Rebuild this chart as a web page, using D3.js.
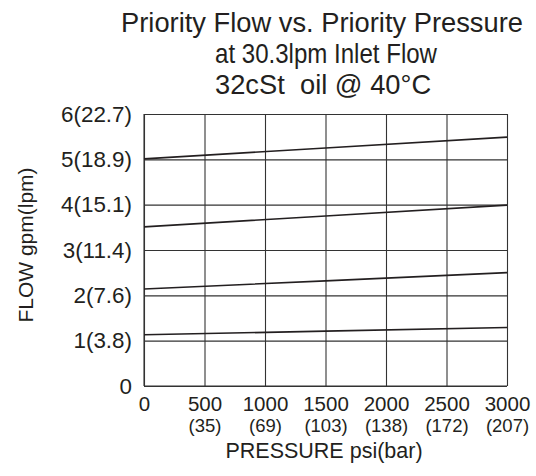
<!DOCTYPE html>
<html>
<head>
<meta charset="utf-8">
<script src="https://cdn.jsdelivr.net/npm/d3@7"></script>
<style>
  body { margin: 0; background: #fff; }
  text { font-family: "Liberation Sans", Arial, sans-serif; fill: #231f20; }
</style>
</head>
<body>
<div id="chart"></div>
<script>
// pressure in psi where values were read
const pressures = [0, 1500, 3000]
const flowA = [5.01, 5.25, 5.49]
const flowB = [3.51, 3.75, 3.99]
const flowC = [2.14, 2.32, 2.50]
const flowD = [1.13, 1.21, 1.29]

const xTicks = [0, 500, 1000, 1500, 2000, 2500, 3000]
const xBarLabels = ['', '(35)', '(69)', '(103)', '(138)', '(172)', '(207)']
const yTicks = [0, 1, 2, 3, 4, 5, 6]
const yLabels = ['0', '1(3.8)', '2(7.6)', '3(11.4)', '4(15.1)', '5(18.9)', '6(22.7)']
const titleLines = ['Priority Flow vs. Priority Pressure', 'at 30.3lpm Inlet Flow', '32cSt  oil @ 40°C']

const margin = {top: 114, right: 29, bottom: 90, left: 144}
const width = 536 - margin.left - margin.right
const height = 476 - margin.top - margin.bottom

const svg = d3.select('#chart')
    .append('svg')
    .attr('width', 536)
    .attr('height', 476)

const g = svg.append('g')
    .attr('transform', `translate(${margin.left}, ${margin.top})`)

const x = d3.scaleLinear().domain([0, 3000]).range([0, width])
const y = d3.scaleLinear().domain([0, 6]).range([height, 0])

// y axis + horizontal grid
const yAxis = g.append('g')
    .call(d3.axisLeft(y)
        .tickValues(yTicks)
        .tickSize(-width)
        .tickPadding(12)
        .tickFormat((d, i) => yLabels[i]))
yAxis.select('.domain').remove()
yAxis.selectAll('line').attr('stroke', '#333').attr('stroke-width', 1.1)
yAxis.selectAll('text')
    .attr('font-size', 22.4)
    .attr('fill', '#231f20')

// x axis + vertical grid
const xAxis = g.append('g')
    .attr('transform', `translate(0, ${height})`)
    .call(d3.axisBottom(x)
        .tickValues(xTicks)
        .tickSize(-height)
        .tickPadding(10)
        .tickFormat(d => d))
xAxis.select('.domain').remove()
xAxis.selectAll('line').attr('stroke', '#333').attr('stroke-width', 1.1)
xAxis.selectAll('text')
    .attr('font-size', 20.5)
    .attr('fill', '#231f20')

// bar values underneath, smaller
xAxis.selectAll('.tick')
    .append('text')
    .attr('y', 45.5)
    .attr('text-anchor', 'middle')
    .attr('font-size', 18.5)
    .attr('fill', '#231f20')
    .text((d, i) => xBarLabels[i])

// left and bottom edges
g.append('line').attr('x1', 0).attr('x2', 0).attr('y1', 0).attr('y2', height)
    .attr('stroke', '#333').attr('stroke-width', 1.1)
g.append('line').attr('x1', 0).attr('x2', width).attr('y1', height).attr('y2', height)
    .attr('stroke', '#333').attr('stroke-width', 1.1)

// curves
const line = d3.line()
    .x((d, i) => x(pressures[i]))
    .y(d => y(d))

;[flowA, flowB, flowC, flowD].forEach(series => {
    g.append('path')
        .datum(series)
        .attr('fill', 'none')
        .attr('stroke', '#231f20')
        .attr('stroke-width', 1.6)
        .attr('d', line)
})

// title: first line centred, the other two start at the same left edge
const title = svg.append('g')
title.append('text')
    .attr('x', 322)
    .attr('y', 32)
    .attr('text-anchor', 'middle')
    .attr('font-size', 27.3)
    .text(titleLines[0])
title.append('text')
    .attr('x', 215)
    .attr('y', 63)
    .attr('font-size', 27.3)
    .attr('textLength', 222)
    .attr('lengthAdjust', 'spacingAndGlyphs')
    .text(titleLines[1])
title.append('text')
    .attr('x', 215)
    .attr('y', 94)
    .attr('font-size', 27.3)
    .style('white-space', 'pre')
    .text(titleLines[2])

// axis titles
svg.append('text')
    .attr('x', 324)
    .attr('y', 458)
    .attr('text-anchor', 'middle')
    .attr('font-size', 21.5)
    .text('PRESSURE psi(bar)')

svg.append('text')
    .attr('transform', `translate(33, 245) rotate(-90)`)
    .attr('text-anchor', 'middle')
    .attr('font-size', 21)
    .text('FLOW gpm(lpm)')
</script>
</body>
</html>
